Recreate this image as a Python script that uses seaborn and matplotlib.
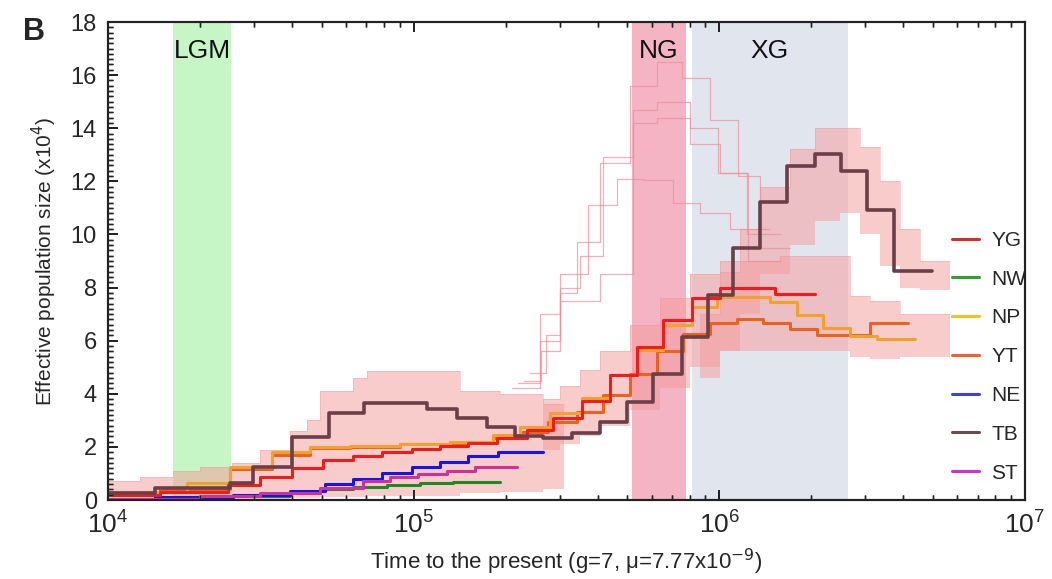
import numpy as np
import pandas as pd
import seaborn as sns
import matplotlib.pyplot as plt
from matplotlib.lines import Line2D
from matplotlib.ticker import MultipleLocator, LogLocator, NullFormatter, FixedLocator, FixedFormatter

# PSMC step curves: start time of each step (years), Ne (x10^4); last time = end of curve
pops = ['YG', 'NW', 'NP', 'YT', 'NE', 'TB', 'ST']

yg_t = [1.0e4, 1.48e4, 2.47e4, 3.14e4, 4.0e4, 5.05e4, 6.33e4, 7.88e4, 9.87e4, 1.219e5, 1.505e5,
        1.873e5, 2.348e5, 2.857e5, 3.552e5, 4.386e5, 5.377e5, 6.54e5, 8.135e5, 1.005e6, 1.52e6, 2.055e6]
yg_v = [0.2, 0.3, 0.55, 0.85, 1.2, 1.5, 1.65, 1.8, 1.92, 2.02, 2.13,
        2.32, 2.64, 3.07, 3.74, 4.7, 5.77, 6.78, 7.59, 7.97, 7.74]

nw_t = [1.0e4, 2.0e4, 2.564e4, 3.94e4, 4.94e4, 6.33e4, 8.18e4, 1.049e5, 1.345e5, 1.916e5]
nw_v = [0.02, 0.05, 0.14, 0.26, 0.4, 0.48, 0.56, 0.63, 0.69]

np_t = [1.0e4, 1.813e4, 2.51e4, 3.44e4, 4.58e4, 6.19e4, 9.02e4, 1.314e5, 1.817e5, 2.227e5, 2.793e5,
        3.552e5, 4.386e5, 5.377e5, 6.54e5, 8.135e5, 9.82e5, 1.464e6, 1.795e6, 2.183e6, 2.674e6,
        3.279e6, 4.364e6]
np_v = [0.3, 0.65, 1.25, 1.8, 2.0, 2.05, 2.1, 2.2, 2.45, 2.76, 3.26,
        3.83, 4.71, 5.65, 6.59, 7.28, 7.65, 7.47, 6.97, 6.46, 6.17, 6.05]

yt_t = [1.0e4, 1.48e4, 2.51e4, 3.44e4, 4.58e4, 6.19e4, 9.02e4, 1.314e5, 1.817e5, 2.227e5, 2.75e5,
        3.421e5, 4.161e5, 5.1e5, 6.251e5, 7.6e5, 9.32e5, 1.142e6, 1.389e6, 1.702e6, 2.086e6,
        3.11e6, 4.14e6]
yt_v = [0.25, 0.4, 1.15, 1.7, 1.95, 2.0, 2.1, 2.15, 2.35, 2.57, 2.95,
        3.32, 3.95, 4.74, 5.62, 6.27, 6.65, 6.80, 6.68, 6.43, 6.2, 6.68]

ne_t = [1.0e4, 1.425e4, 2.564e4, 3.94e4, 5.13e4, 6.33e4, 7.88e4, 9.87e4, 1.219e5, 1.505e5, 1.887e5, 2.648e5]
ne_v = [0.05, 0.1, 0.19, 0.35, 0.6, 0.78, 1.0, 1.23, 1.44, 1.66, 1.82]

tb_t = [1.0e4, 1.42e4, 2.5e4, 2.98e4, 3.99e4, 5.28e4, 6.88e4, 1.105e5, 1.386e5, 1.737e5, 2.145e5,
        2.648e5, 3.295e5, 4.068e5, 4.986e5, 6.066e5, 7.545e5, 9.18e5, 1.108e6, 1.358e6, 1.664e6,
        2.055e6, 2.5e6, 3.04e6, 3.725e6, 4.96e6]
tb_v = [0.27, 0.45, 0.64, 1.25, 2.38, 3.27, 3.65, 3.42, 3.09, 2.75, 2.40,
        2.33, 2.53, 2.95, 3.70, 4.74, 6.13, 7.72, 9.49, 11.23, 12.59,
        13.03, 12.39, 10.92, 8.63]

st_t = [1.0e4, 2.0e4, 3.14e4, 4.94e4, 6.83e4, 8.37e4, 1.033e5, 1.285e5, 1.587e5, 2.177e5]
st_v = [0.05, 0.15, 0.25, 0.45, 0.71, 0.85, 0.98, 1.1, 1.25]

# bootstrap envelopes (lower / upper), same step convention
bootA_t = [1.0e4, 1.27e4, 1.63e4, 2.0e4, 2.55e4, 3.14e4, 3.94e4, 4.48e4, 4.94e4, 6.33e4, 7.03e4,
           1.42e5, 1.92e5, 2.65e5, 3.1e5]
bootA_lo = [0.0, 0.0, 0.0, 0.02, 0.03, 0.05, 0.07, 0.09, 0.1, 0.13, 0.15, 0.25, 0.3, 0.4]
bootA_hi = [0.7, 0.85, 1.1, 1.25, 1.4, 1.9, 2.6, 3.0, 4.1, 4.6, 4.85, 4.1, 4.0, 3.6]

bootB_t = [2.65e5, 3.01e5, 3.5e5, 4.07e5, 5.1e5, 6.39e5, 8.01e5, 1.005e6, 1.579e6, 2.674e6,
           3.11e6, 3.9e6, 5.68e6]
bootB_lo = [1.9, 2.1, 2.4, 2.8, 3.4, 4.2, 5.0, 5.6, 5.6, 5.4, 5.3, 5.4]
bootB_hi = [3.8, 4.3, 4.9, 5.6, 6.6, 7.6, 8.5, 9.0, 9.2, 7.7, 7.5, 7.0]

bootC_t = [8.64e5, 1.005e6, 1.168e6, 1.358e6, 1.702e6, 2.055e6, 2.48e6, 2.884e6, 3.353e6, 3.9e6,
           4.53e6, 5.68e6]
bootC_lo = [4.6, 5.6, 7.0, 8.5, 9.6, 10.5, 10.8, 10.0, 8.8, 8.0, 7.9]
bootC_hi = [7.0, 8.6, 10.2, 11.8, 13.2, 14.0, 14.0, 13.3, 12.0, 10.2, 9.0]

# a few outlying bootstrap replicates that peak in the NG period
out1_t = [2.2e5, 2.589e5, 3.01e5, 3.42e5, 4.07e5, 5.1e5, 6.25e5, 7.55e5, 9.32e5, 1.151e6, 1.358e6, 1.702e6]
out1_v = [4.4, 6.0, 7.8, 9.7, 12.7, 15.6, 16.5, 15.9, 14.3, 12.2, 9.5]
out2_t = [2.4e5, 2.7e5, 3.01e5, 3.5e5, 4.161e5, 5.22e5, 6.25e5, 8.01e5, 9.9e5, 1.231e6, 1.579e6]
out2_v = [4.8, 6.2, 8.0, 9.2, 12.9, 14.7, 15.0, 14.0, 12.3, 10.0]
out3_t = [2.1e5, 2.589e5, 3.01e5, 3.72e5, 4.62e5, 5.62e5, 7.05e5, 8.64e5, 1.083e6, 1.464e6]
out3_v = [4.2, 7.0, 8.5, 11.1, 12.1, 12.05, 11.2, 10.8, 10.2]
out4_t = [2.3e5, 2.6e5, 3.01e5, 4.07e5, 5.22e5, 6.25e5, 8.01e5, 1.005e6, 1.24e6, 1.579e6]
out4_v = [4.5, 5.6, 7.5, 8.5, 14.2, 14.4, 13.4, 12.3, 9.0]

# shaded periods (years)
period_names = ['LGM', 'NG', 'XG']
period_start = [1.632e4, 5.18e5, 8.13e5]
period_end = [2.526e4, 7.78e5, 2.634e6]
period_colors = ['#c6f6c6', '#f4b4c4', '#e1e5ee']

x_ticks = [1e4, 1e5, 1e6, 1e7]
x_ticklabels = [r'$\mathregular{10^{4}}$', r'$\mathregular{10^{5}}$',
                r'$\mathregular{10^{6}}$', r'$\mathregular{10^{7}}$']
y_ticks = [0, 2, 4, 6, 8, 10, 12, 14, 16, 18]

line_colors = {'YG': '#f01c1c', 'NW': '#1f8a1f', 'NP': '#f2a22a', 'YT': '#e8641e',
               'NE': '#1414f0', 'TB': '#6b3f48', 'ST': '#cc3399'}
legend_colors = {'YG': '#d03030', 'NW': '#30a030', 'NP': '#f2c020', 'YT': '#f06030',
                 'NE': '#4040e0', 'TB': '#6a4a4a', 'ST': '#d030d0'}

series = {'YG': (yg_t, yg_v), 'NW': (nw_t, nw_v), 'NP': (np_t, np_v), 'YT': (yt_t, yt_v),
          'NE': (ne_t, ne_v), 'TB': (tb_t, tb_v), 'ST': (st_t, st_v)}

sns.set_theme(style='ticks')
plt.rcParams['font.family'] = ['Liberation Sans', 'DejaVu Sans']

pos = [0.1027, 0.1364, 0.8716, 0.8256]
fig = plt.figure(figsize=(10.52, 5.79), dpi=100)
ax = fig.add_axes(pos)

for s, e, c in zip(period_start, period_end, period_colors):
    ax.axvspan(s, e, color=c, lw=0, zorder=0)

boot_col = '#f59a9a'
for bt, lo, hi in [(bootA_t, bootA_lo, bootA_hi), (bootB_t, bootB_lo, bootB_hi), (bootC_t, bootC_lo, bootC_hi)]:
    lo2 = lo + [lo[-1]]
    hi2 = hi + [hi[-1]]
    ax.fill_between(bt, lo2, hi2, step='post', color=boot_col, alpha=0.5, lw=0, zorder=1)
    ax.step(bt, hi2, where='post', color=boot_col, lw=0.6, alpha=0.5, zorder=1)

for ot, ov in [(out1_t, out1_v), (out2_t, out2_v), (out3_t, out3_v), (out4_t, out4_v)]:
    ax.step(ot, ov + [ov[-1]], where='post', color='#ee8e9c', lw=0.9, alpha=0.7, zorder=1.5)

draw_order = ['NW', 'NE', 'ST', 'YT', 'NP', 'YG', 'TB']
for p in draw_order:
    t, v = series[p]
    df = pd.DataFrame({'time': t, 'ne': v + [v[-1]]})
    sns.lineplot(data=df, x='time', y='ne', color=line_colors[p], drawstyle='steps-post',
                 lw=2.6 if p == 'TB' else 2.2, sort=False, estimator=None, ax=ax, zorder=3)

for name, s, e in zip(period_names, period_start, period_end):
    ax.text(np.sqrt(s * e), 16.9, name, ha='center', va='center', fontsize=19, color='#111111', zorder=4)


def style_axis(a):
    a.set_xscale('log')
    a.set_xlim(1e4, 1e7)
    a.set_ylim(0, 18)
    a.xaxis.set_major_locator(FixedLocator(x_ticks))
    a.xaxis.set_major_formatter(FixedFormatter(x_ticklabels))
    a.xaxis.set_minor_locator(LogLocator(base=10, subs=np.arange(2, 10), numticks=20))
    a.xaxis.set_minor_formatter(NullFormatter())
    a.yaxis.set_major_locator(FixedLocator(y_ticks))
    a.yaxis.set_minor_locator(MultipleLocator(0.2))
    a.tick_params(which='both', direction='in', top=True, right=False, color='#222222')
    a.tick_params(which='major', length=7, width=1.3, pad=8)
    a.tick_params(which='minor', length=3.5, width=1.0)
    a.tick_params(axis='x', which='major', labelsize=19)
    a.tick_params(axis='y', which='major', labelsize=17)
    for sp in a.spines.values():
        sp.set_linewidth(1.5)
        sp.set_color('#222222')


style_axis(ax)

ax.set_xlabel('Time to the present (g=7, \u03bc=7.77x10$^{-9}$)', fontsize=16, labelpad=6)
ax.set_ylabel('Effective population size (x10$^{4}$)', fontsize=15, labelpad=8)

handles = [Line2D([], [], color=legend_colors[p], lw=2.2) for p in pops]
ax.legend(handles, pops, loc='upper left', bbox_to_anchor=(0.909, 0.585), frameon=False,
          fontsize=15, handlelength=1.3, handletextpad=0.6, labelspacing=0.95, borderpad=0)

# empty overlay axes that carries the tick marks on top of everything
tax = fig.add_axes(pos, zorder=10)
tax.patch.set_visible(False)
style_axis(tax)
tax.tick_params(which='both', labelbottom=False, labelleft=False, labeltop=False)
tax.set_xlabel('')
tax.set_ylabel('')

fig.text(0.022, 0.945, 'B', fontsize=22, fontweight='bold', ha='left', va='center')

plt.savefig('out.png', dpi=100)
plt.close()
